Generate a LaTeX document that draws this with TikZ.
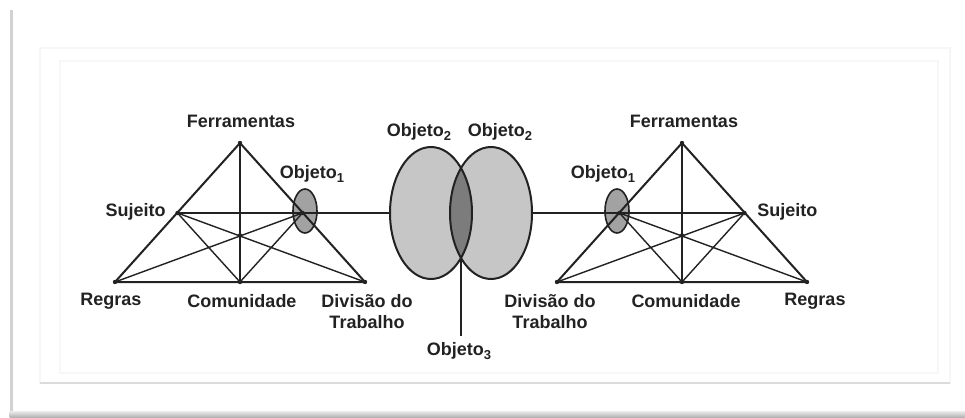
\documentclass[tikz,border=0pt]{standalone}
\usepackage{fontspec}
\setmainfont{Liberation Sans}
\usetikzlibrary{shapes.geometric}
\definecolor{ink}{HTML}{222222}
\definecolor{objfill}{HTML}{C6C6C6}
\definecolor{lensfill}{HTML}{7C7C7C}
\definecolor{smallfill}{HTML}{A2A2A2}
\newcommand{\subidx}[1]{\raisebox{-0.45ex}{\fontsize{6.5}{7}\selectfont #1}}
\tikzset{
  lbl/.style={font=\fontsize{9}{10.5}\selectfont\bfseries, text=ink, inner sep=0pt, align=center},
  edge/.style={draw=ink, line width=1pt, line join=round},
  inner/.style={draw=ink, line width=0.7pt},
  link/.style={draw=ink, line width=1pt},
  vdot/.style={circle, fill=ink, inner sep=0pt, minimum size=2.2pt},
  smallobj/.style={ellipse, draw=ink, line width=0.8pt, fill=smallfill, inner sep=0pt, minimum width=12pt, minimum height=22pt},
  bigobj/.style={ellipse, fill=objfill, inner sep=0pt, minimum width=41pt, minimum height=66pt},
}
\begin{document}
\begin{tikzpicture}[x=0.5pt, y=-0.5pt]
  \useasboundingbox (0,0) rectangle (965,418);
  \fill[white] (0,0) rectangle (965,418);

  % page frame and shadow
  \fill[gray!35] (9.5,10) rectangle (12.5,418);
  \shade[top color=gray!15, bottom color=gray!65] (9.5,411) rectangle (965,418);
  \draw[gray!7, line width=1pt] (40,48) rectangle (950,383);
  \draw[gray!6, line width=0.8pt] (60,61) rectangle (938,373);
  \draw[gray!28, line width=1.2pt] (40,383) -- (950,383);

  % ---------- left activity system ----------
  \coordinate (fL) at (240,143);
  \coordinate (rL) at (115,282);
  \coordinate (dL) at (365,282);
  \coordinate (cL) at (240,282);
  \coordinate (sL) at (177.5,213);
  \coordinate (oL) at (302.5,213);
  \coordinate (mL) at (240,235.5);

  \node[smallobj] (o1L) at (305,211) {};

  \draw[inner] (fL) -- (cL);
  \draw[inner] (sL) -- (oL);
  \draw[inner] (sL) -- (dL);
  \draw[inner] (sL) -- (cL);
  \draw[inner] (oL) -- (rL);
  \draw[inner] (oL) -- (cL);
  \draw[edge] (fL) -- (rL) -- (dL) -- cycle;

  \foreach \p in {fL,rL,dL,cL,sL,oL,mL} \node[vdot] at (\p) {};

  % ---------- right activity system ----------
  \coordinate (fR) at (682,143);
  \coordinate (dR) at (557,282);
  \coordinate (rR) at (807,282);
  \coordinate (cR) at (682,282);
  \coordinate (sR) at (744.5,213);
  \coordinate (oR) at (619.5,213);
  \coordinate (mR) at (682,235.5);

  \node[smallobj] (o1R) at (617,211) {};

  \draw[inner] (fR) -- (cR);
  \draw[inner] (sR) -- (oR);
  \draw[inner] (sR) -- (dR);
  \draw[inner] (sR) -- (cR);
  \draw[inner] (oR) -- (rR);
  \draw[inner] (oR) -- (cR);
  \draw[edge] (fR) -- (dR) -- (rR) -- cycle;

  \foreach \p in {fR,rR,dR,cR,sR,oR,mR} \node[vdot] at (\p) {};

  % ---------- shared objects ----------
  \node[bigobj] (o2L) at (431,213) {};
  \node[bigobj] (o2R) at (491,213) {};
  \begin{scope}
    \clip (o2L.center) ellipse [x radius=41, y radius=66];
    \fill[lensfill] (o2R.center) ellipse [x radius=41, y radius=66];
  \end{scope}
  \draw[ink, line width=1pt] (o2L.center) ellipse [x radius=41, y radius=66];
  \draw[ink, line width=1pt] (o2R.center) ellipse [x radius=41, y radius=66];

  \coordinate (meet) at (461,258);
  \coordinate (o3end) at (461,336);
  \draw[link] (oL) -- (o2L.west);
  \draw[link] (o2R.east) -- (oR);
  \draw[link] (meet) -- (o3end);

  % ---------- labels ----------
  \node[lbl] (tFL) at (241,121) {Ferramentas};
  \node[lbl, anchor=east] (tSL) at (166,212) {Sujeito};
  \node[lbl] (tRL) at (111,301) {Regras};
  \node[lbl] (tCL) at (242,301) {Comunidade};
  \node[lbl, anchor=north] (tDL) at (367,294) {Divisão do\\Trabalho};
  \node[lbl] (tOL) at (312,174) {Objeto\subidx{1}};

  \node[lbl] (tFR) at (684,121) {Ferramentas};
  \node[lbl, anchor=west] (tSR) at (757,212) {Sujeito};
  \node[lbl] (tRR) at (815,301) {Regras};
  \node[lbl] (tCR) at (686,301) {Comunidade};
  \node[lbl, anchor=north] (tDR) at (550,294) {Divisão do\\Trabalho};
  \node[lbl] (tOR) at (603,174) {Objeto\subidx{1}};

  \node[lbl] (t2L) at (419,132) {Objeto\subidx{2}};
  \node[lbl] (t2R) at (500,132) {Objeto\subidx{2}};
  \node[lbl] (t3) at (459,351) {Objeto\subidx{3}};
\end{tikzpicture}
\end{document}
